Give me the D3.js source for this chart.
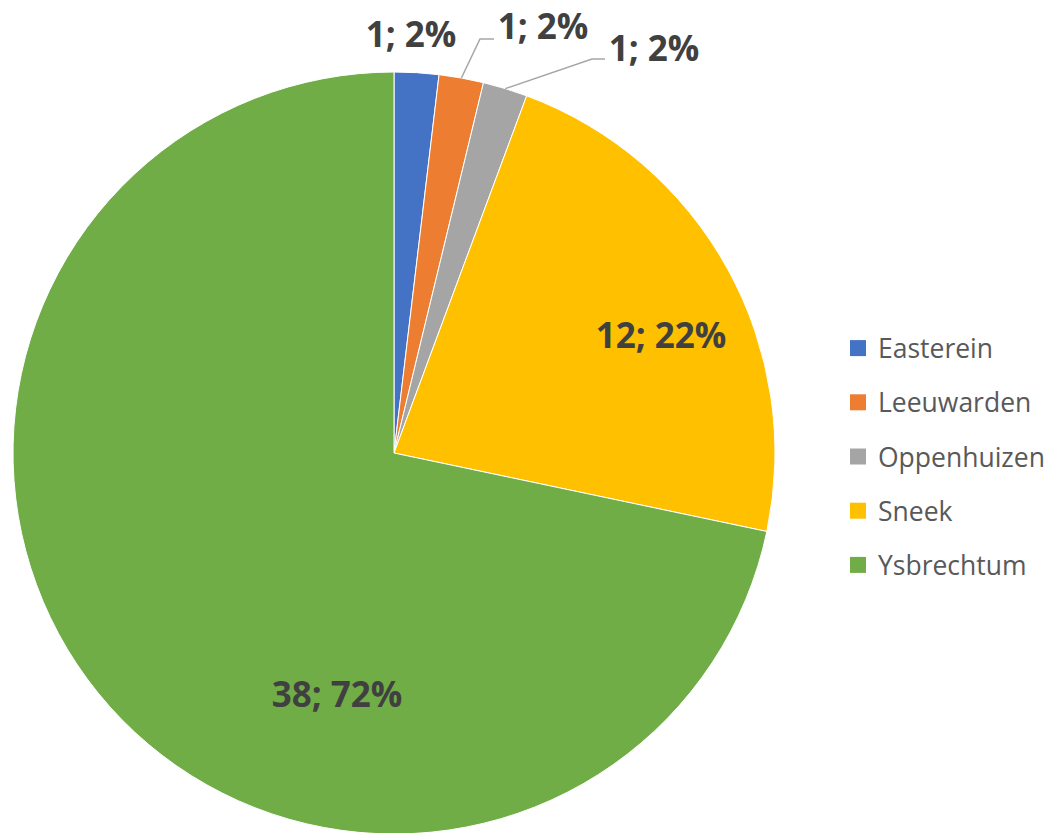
<!DOCTYPE html>
<html>
<head>
<meta charset="utf-8">
<script src="https://cdn.jsdelivr.net/npm/d3@7"></script>
<style>
  html, body { margin: 0; padding: 0; background: #fff; }
  svg { display: block; }
</style>
</head>
<body>
<svg id="chart" width="1058" height="833"></svg>
<script>
const categories = ["Easterein", "Leeuwarden", "Oppenhuizen", "Sneek", "Ysbrechtum"];
const values = [1, 1, 1, 12, 38];
const labelTexts = ["1; 2%", "1; 2%", "1; 2%", "12; 22%", "38; 72%"];
const colors = ["#4472c4", "#ed7d31", "#a5a5a5", "#ffc000", "#70ad47"];

const svg = d3.select("#chart");
const cx = 394, cy = 453, R = 381;

const pie = d3.pie().sort(null).value(d => d.v);
const data = categories.map((c, i) => ({ c, v: values[i], t: labelTexts[i], col: colors[i] }));
const arcs = pie(data);
const arc = d3.arc().innerRadius(0).outerRadius(R);

const g = svg.append("g").attr("transform", `translate(${cx},${cy})`);
g.selectAll("path.slice").data(arcs).enter().append("path")
  .attr("class", "slice")
  .attr("d", arc)
  .attr("fill", d => d.data.col)
  .attr("stroke", "#fff")
  .attr("stroke-width", 1);

const labelFont = "'Open Sans', 'Noto Sans', sans-serif";
const labelPos = [
  { x: 411, y: 47, baseline: "alphabetic", leader: null },
  { x: 543, y: 39, baseline: "alphabetic", leader: [[480, 39], [494, 39]] },
  { x: 654, y: 61, baseline: "alphabetic", leader: [[592, 59], [605, 59]] },
  { x: 661, y: 334, baseline: "central", leader: null },
  { x: 337, y: 693, baseline: "central", leader: null }
];

arcs.forEach((a, i) => {
  const p = labelPos[i];
  if (p.leader) {
    const mid = (a.startAngle + a.endAngle) / 2;
    const px = cx + Math.sin(mid) * R;
    const py = cy - Math.cos(mid) * R;
    svg.append("polyline")
      .attr("points", [[px, py], p.leader[0], p.leader[1]].map(q => q.join(",")).join(" "))
      .attr("fill", "none")
      .attr("stroke", "#a6a6a6")
      .attr("stroke-width", 1.5);
  }
  svg.append("text")
    .attr("x", p.x).attr("y", p.y)
    .attr("text-anchor", "middle")
    .attr("dominant-baseline", p.baseline)
    .attr("font-family", labelFont)
    .attr("font-weight", "bold")
    .attr("font-size", 35)
    .attr("fill", "#404040")
    .text(a.data.t);
});

// legend
const legend = svg.append("g");
const lgY = d3.scaleBand().domain(categories).range([321, 592]);
categories.forEach((c, i) => {
  const yc = lgY(c) + lgY.bandwidth() / 2;
  legend.append("rect")
    .attr("x", 850).attr("y", yc - 8)
    .attr("width", 16).attr("height", 16)
    .attr("fill", colors[i]);
  legend.append("text")
    .attr("x", 878).attr("y", yc)
    .attr("dominant-baseline", "central")
    .attr("font-family", labelFont)
    .attr("font-size", 26.5)
    .attr("fill", "#595959")
    .text(c);
});
</script>
</body>
</html>
